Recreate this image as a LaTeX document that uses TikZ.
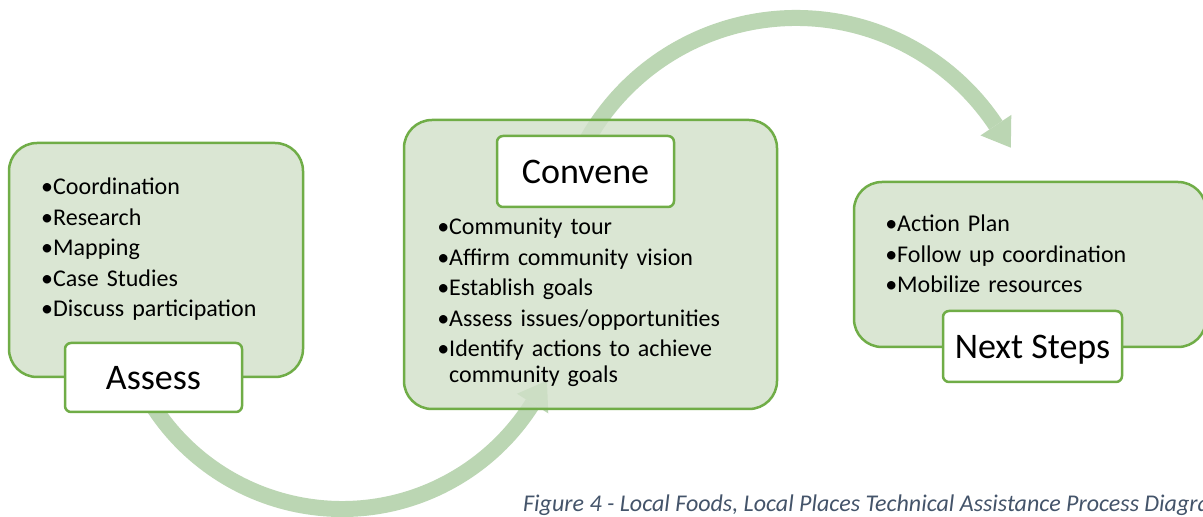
\documentclass[tikz,border=0pt]{standalone}
\usepackage{fontspec}
\setmainfont{Carlito}
\usetikzlibrary{calc}
\definecolor{boxfill}{RGB}{209,224,201}
\definecolor{boxline}{RGB}{112,173,71}
\definecolor{arrowc}{RGB}{187,214,179}
\definecolor{capc}{RGB}{68,84,106}
\newcommand\lbul{\leavevmode\llap{•}}
\tikzset{
  bigbox/.style={draw=boxline, line width=2.5pt, fill=boxfill, fill opacity=0.8, rounded corners=28pt, inner sep=0pt},
  lblbox/.style={draw=boxline, line width=2.5pt, fill=white, rounded corners=6pt, inner sep=0pt,
    font=\fontsize{36}{36}\selectfont, text height=23.2pt, text depth=0pt},
  listtext/.style={anchor=base west, inner sep=0pt, align=left, text width=#1,
    font=\fontsize{24}{26}\selectfont},
  band/.style={draw=arrowc, line width=16pt},
  head/.style={fill=arrowc, draw=none},
}
\begin{document}
\begin{tikzpicture}[x=1pt,y=1pt]
\useasboundingbox (0,0) rectangle (1203,517);
\fill[white] (0,0) rectangle (1203,517);
\clip (0,0) rectangle (1203,517);
% arc centres
\coordinate (c1) at (342,233);
\coordinate (c2) at (796,259);
% bottom arrow: Assess -> Convene
\coordinate (a1s) at ($(c1)+(212:225)$);
\draw[band] (a1s) arc[start angle=212, end angle=327.9, radius=225];
\fill[head] ($(c1)+(327.9:206.5)$) -- ($(c1)+(327.9:243.5)$) -- ($(c1)+(327.9:225)+(57.9:27)$) -- cycle;
% top arrow: Convene -> Next Steps
\coordinate (a2s) at ($(c2)+(151:240)$);
\draw[band] (a2s) arc[start angle=151, end angle=33.6, radius=240];
\fill[head] ($(c2)+(33.6:221.5)$) -- ($(c2)+(33.6:258.5)$) -- ($(c2)+(33.6:240)+(-56.4:27)$) -- cycle;
% big boxes
\node[bigbox, minimum width=294, minimum height=234] (assessbox) at (156,257) {};
\node[bigbox, minimum width=373, minimum height=289] (convenebox) at (590.5,252.5) {};
\node[bigbox, minimum width=352, minimum height=165] (nextbox) at (1030,252.5) {};
% labels
\node[lblbox, minimum width=177, minimum height=69] (assess) at (153.5,139.5) {Assess};
\node[lblbox, minimum width=177, minimum height=71] (convene) at (585.5,345.5) {Convene};
\node[lblbox, minimum width=179, minimum height=71] (next) at (1032.5,170.5) {Next Steps};
% lists
\node[listtext=240] (assesslist) at (53,322) {\lbul Coordination\\[4.5pt]\lbul Research\\[4.5pt]\lbul Mapping\\[4.5pt]\lbul Case Studies\\[4.5pt]\lbul Discuss participation};
\node[listtext=320] (convenelist) at (449,282) {\lbul Community tour\\[4.5pt]\lbul Affirm community vision\\[4.5pt]\lbul Establish goals\\[4.5pt]\lbul Assess issues/opportunities\\[4.5pt]\lbul Identify actions to achieve\\community goals};
\node[listtext=290] (nextlist) at (897,285) {\lbul Action Plan\\[4.5pt]\lbul Follow up coordination\\[4.5pt]\lbul Mobilize resources};
% caption
\node[anchor=base west, inner sep=0pt, text=capc, font=\fontsize{24}{28}\selectfont\itshape] (caption) at (523,5) {Figure 4 - Local Foods, Local Places Technical Assistance Process Diagram};
\end{tikzpicture}
\end{document}
